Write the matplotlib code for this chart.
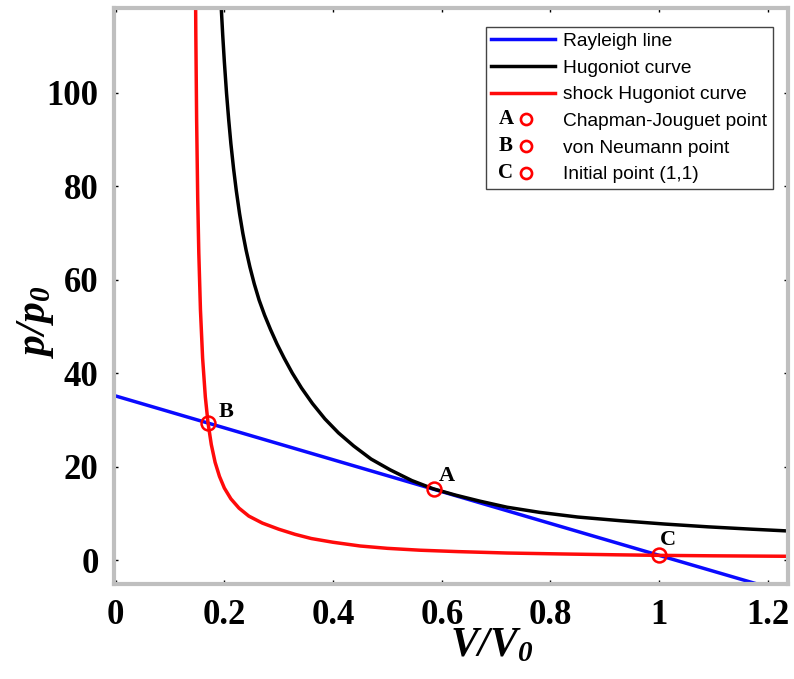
import matplotlib
matplotlib.use('Agg')
import matplotlib.pyplot as plt
from matplotlib.legend_handler import HandlerBase
from matplotlib.lines import Line2D
from matplotlib.text import Text

# axis labels are bold italic serif, subscript digit included
plt.rcParams['mathtext.fontset'] = 'custom'
plt.rcParams['mathtext.it'] = 'Liberation Serif:italic:bold'
plt.rcParams['mathtext.rm'] = 'Liberation Serif:italic:bold'

# values
rayleigh_v = [0.0, 1.0, 1.25]
rayleigh_p = [35.1, 1.0, -7.5]

hugoniot_v = [0.192, 0.194, 0.197, 0.200, 0.204, 0.208, 0.212, 0.217, 0.222, 0.228,
              0.234, 0.240, 0.247, 0.255, 0.264, 0.274, 0.285, 0.297, 0.310, 0.325,
              0.342, 0.362, 0.385, 0.410, 0.438, 0.470, 0.505, 0.545, 0.584, 0.625,
              0.670, 0.720, 0.780, 0.850, 0.930, 1.010, 1.090, 1.170, 1.240]
hugoniot_p = [123.6, 118.8, 112.3, 106.6, 99.9, 94.2, 89.1, 83.7, 79.0, 74.1,
              69.9, 66.3, 62.7, 59.1, 55.6, 52.4, 49.3, 46.2, 43.2, 40.0,
              36.8, 33.5, 30.2, 27.2, 24.4, 21.6, 19.3, 17.0, 15.25, 13.9,
              12.6, 11.3, 10.2, 9.2, 8.4, 7.7, 7.1, 6.6, 6.2]

shock_v = [0.1455, 0.1465, 0.1475, 0.149, 0.151, 0.153, 0.156, 0.160, 0.165, 0.170,
           0.176, 0.183, 0.191, 0.200, 0.212, 0.227, 0.245, 0.270, 0.300, 0.330,
           0.360, 0.400, 0.450, 0.500, 0.560, 0.630, 0.720, 0.820, 0.920, 1.000,
           1.100, 1.240]
shock_p = [153.0, 129.8, 112.7, 94.2, 77.3, 65.7, 53.6, 43.2, 34.9, 29.3,
           24.7, 20.9, 17.9, 15.4, 13.1, 11.1, 9.4, 7.9, 6.6, 5.5,
           4.6, 3.8, 3.0, 2.5, 2.1, 1.8, 1.5, 1.3, 1.12, 1.0,
           0.9, 0.8]

point_names = ['A', 'B', 'C']
point_v = [0.586, 0.170, 1.0]
point_p = [15.1, 29.3, 1.0]
point_offsets = [(9, 10), (13, 8), (6, 11)]

legend_labels = ['Rayleigh line', 'Hugoniot curve', 'shock Hugoniot curve',
                 'Chapman-Jouguet point', 'von Neumann point', 'Initial point (1,1)']

x_ticks = [0, 0.2, 0.4, 0.6, 0.8, 1.0, 1.2]
x_tick_labels = ['0', '0.2', '0.4', '0.6', '0.8', '1', '1.2']
y_ticks = [0, 20, 40, 60, 80, 100]

serif = 'Liberation Serif'


class LetterCircle(HandlerBase):
    def __init__(self, letter):
        super().__init__()
        self.letter = letter

    def create_artists(self, legend, orig_handle, xdescent, ydescent,
                       width, height, fontsize, trans):
        cy = height / 2 - ydescent
        t = Text(-xdescent + 0.23 * width, cy, self.letter, ha='center', va='center',
                 fontfamily=serif, fontweight='bold', fontsize=15, transform=trans)
        m = Line2D([-xdescent + 0.55 * width], [cy], marker='o', ms=8, mew=1.9,
                   mfc='none', mec='red', ls='none', transform=trans)
        return [t, m]


fig = plt.figure(figsize=(7.94, 6.79), dpi=100)
ax = fig.add_axes([0.1436, 0.1399, 0.8488, 0.8483])

l1, = ax.plot(rayleigh_v, rayleigh_p, color='#0a0aff', lw=2.5)
l2, = ax.plot(hugoniot_v, hugoniot_p, color='black', lw=2.5)
l3, = ax.plot(shock_v, shock_p, color='#ff0a0a', lw=2.5)
ax.plot(point_v, point_p, 'o', ms=10, mew=1.8, mfc='none', mec='red', zorder=5)
for name, v, p, off in zip(point_names, point_v, point_p, point_offsets):
    ax.annotate(name, (v, p), xytext=off, textcoords='offset points',
                ha='center', va='center', fontfamily=serif, fontweight='bold',
                fontsize=16)

ax.set_xlim(-0.003, 1.237)
ax.set_ylim(-5.13, 118.1)
ax.set_xticks(x_ticks)
ax.set_xticklabels(x_tick_labels)
ax.set_yticks(y_ticks)
ax.tick_params(direction='in', length=3, width=1, color='black',
               top=True, right=True, labelsize=25, pad=11)
for lab in ax.get_xticklabels() + ax.get_yticklabels():
    lab.set_fontfamily(serif)
    lab.set_fontweight('bold')
for sp in ax.spines.values():
    sp.set_color('#bfbfbf')
    sp.set_linewidth(3)

ax.set_xlabel('$V/V_0$', fontsize=30)
ax.xaxis.set_label_coords(0.56, -0.068)
ax.set_ylabel('$p/p_0$', fontsize=30)
ax.yaxis.set_label_coords(-0.086, 0.455)

dummies = [Line2D([], []) for _ in point_names]
leg = ax.legend([l1, l2, l3] + dummies, legend_labels,
                handler_map={d: LetterCircle(n) for d, n in zip(dummies, point_names)},
                loc='upper right', bbox_to_anchor=(773 / 794, 1 - 27 / 679),
                bbox_transform=fig.transFigure, borderaxespad=0,
                prop={'family': 'Liberation Sans', 'size': 13.8},
                handlelength=3.3, handletextpad=0.45, labelspacing=0.48,
                borderpad=0.3, fancybox=False, framealpha=1, edgecolor='#444444')
leg.get_frame().set_linewidth(1.0)

fig.savefig('out.png', dpi=100)
